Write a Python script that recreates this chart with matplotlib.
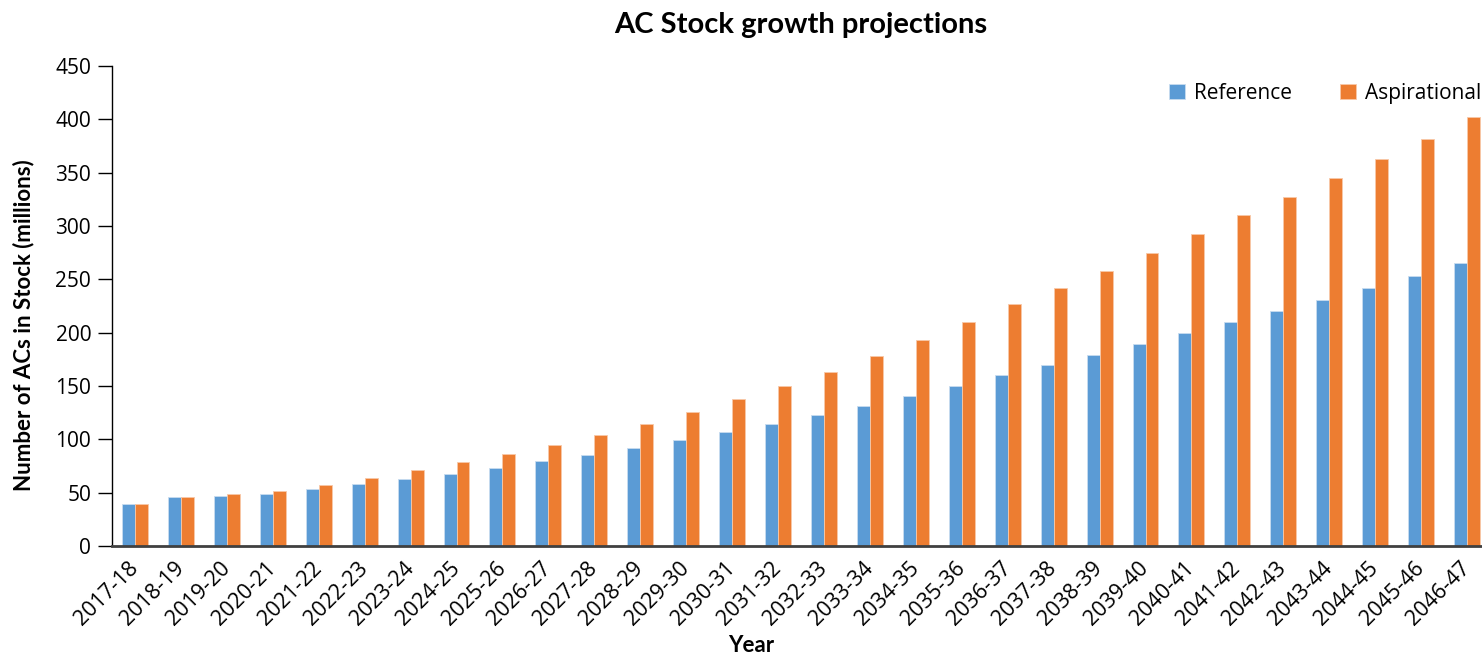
import numpy as np
import matplotlib
matplotlib.use('Agg')
import matplotlib.pyplot as plt

years = ['2017-18', '2018-19', '2019-20', '2020-21', '2021-22', '2022-23',
         '2023-24', '2024-25', '2025-26', '2026-27', '2027-28', '2028-29',
         '2029-30', '2030-31', '2031-32', '2032-33', '2033-34', '2034-35',
         '2035-36', '2036-37', '2037-38', '2038-39', '2039-40', '2040-41',
         '2041-42', '2042-43', '2043-44', '2044-45', '2045-46', '2046-47']
reference = [39, 45.6, 47.2, 49, 53.4, 57.8, 62.8, 67.8, 73.4, 79.4,
             85.3, 92.2, 99.1, 106.6, 114.7, 122.5, 131.2, 140.6, 150.3, 160.6,
             169.7, 179.1, 189.1, 199.4, 210, 220.3, 230.9, 241.9, 253.5, 265.6]
aspirational = [39, 45.6, 48.5, 51.6, 57.2, 63.4, 70.9, 78.4, 86.2, 95,
                104.4, 114.7, 125.3, 137.5, 150, 163.1, 177.8, 193.1, 209.7, 227.2,
                241.9, 257.8, 274.7, 292.2, 310.3, 327.2, 345, 362.8, 381.9, 401.9]
yticks = [0, 50, 100, 150, 200, 250, 300, 350, 400, 450]

blue = '#5B9BD5'
orange = '#ED7D31'

fig = plt.figure(figsize=(14.82, 6.59), dpi=100)
ax = fig.add_axes([112/1482, 113/659, 1378/1482, 480/659])

x = np.arange(len(years))
w = 0.283
ax.bar(x - w/2, reference, w, color=blue, edgecolor='#c8dcf0', linewidth=0.6, label='Reference')
ax.bar(x + w/2, aspirational, w, color=orange, edgecolor='#f8c8a8', linewidth=0.6, label='Aspirational')

ax.set_xlim(-0.5, len(years) - 0.5)
ax.set_ylim(0, 450)
ax.set_yticks(yticks)
ax.set_xticks(x)
ax.set_xticklabels(years, rotation=45, ha='right', va='center', rotation_mode='anchor',
                   fontsize=15.5, family='Open Sans')
for lab in ax.get_yticklabels():
    lab.set_family('Open Sans')
    lab.set_fontsize(15)

ax.spines['top'].set_visible(False)
ax.spines['right'].set_visible(False)
ax.spines['left'].set_linewidth(1.0)
ax.spines['bottom'].set_color('#404040')
ax.spines['bottom'].set_linewidth(2.0)
ax.tick_params(axis='y', length=10, width=1.0, pad=5)
ax.tick_params(axis='x', length=0, pad=14)

ax.set_title('AC Stock growth projections', fontsize=21, fontweight='bold', family='Lato', pad=24)
ax.set_ylabel('Number of ACs in Stock (millions)', fontsize=16, fontweight='bold', family='Lato')
ax.yaxis.set_label_coords(-0.056, 0.46)
fig.text(751/1482, 1 - 646/659, 'Year', ha='center', va='center', fontsize=16, fontweight='bold', family='Lato')

leg = ax.legend(loc='upper right', bbox_to_anchor=(1.006, 1.0), ncol=2, frameon=False,
                prop={'family': 'Open Sans', 'size': 15}, handlelength=0.75, handleheight=0.75,
                columnspacing=2.3, handletextpad=0.45, borderaxespad=0.4)

fig.savefig('out.png', dpi=100)
